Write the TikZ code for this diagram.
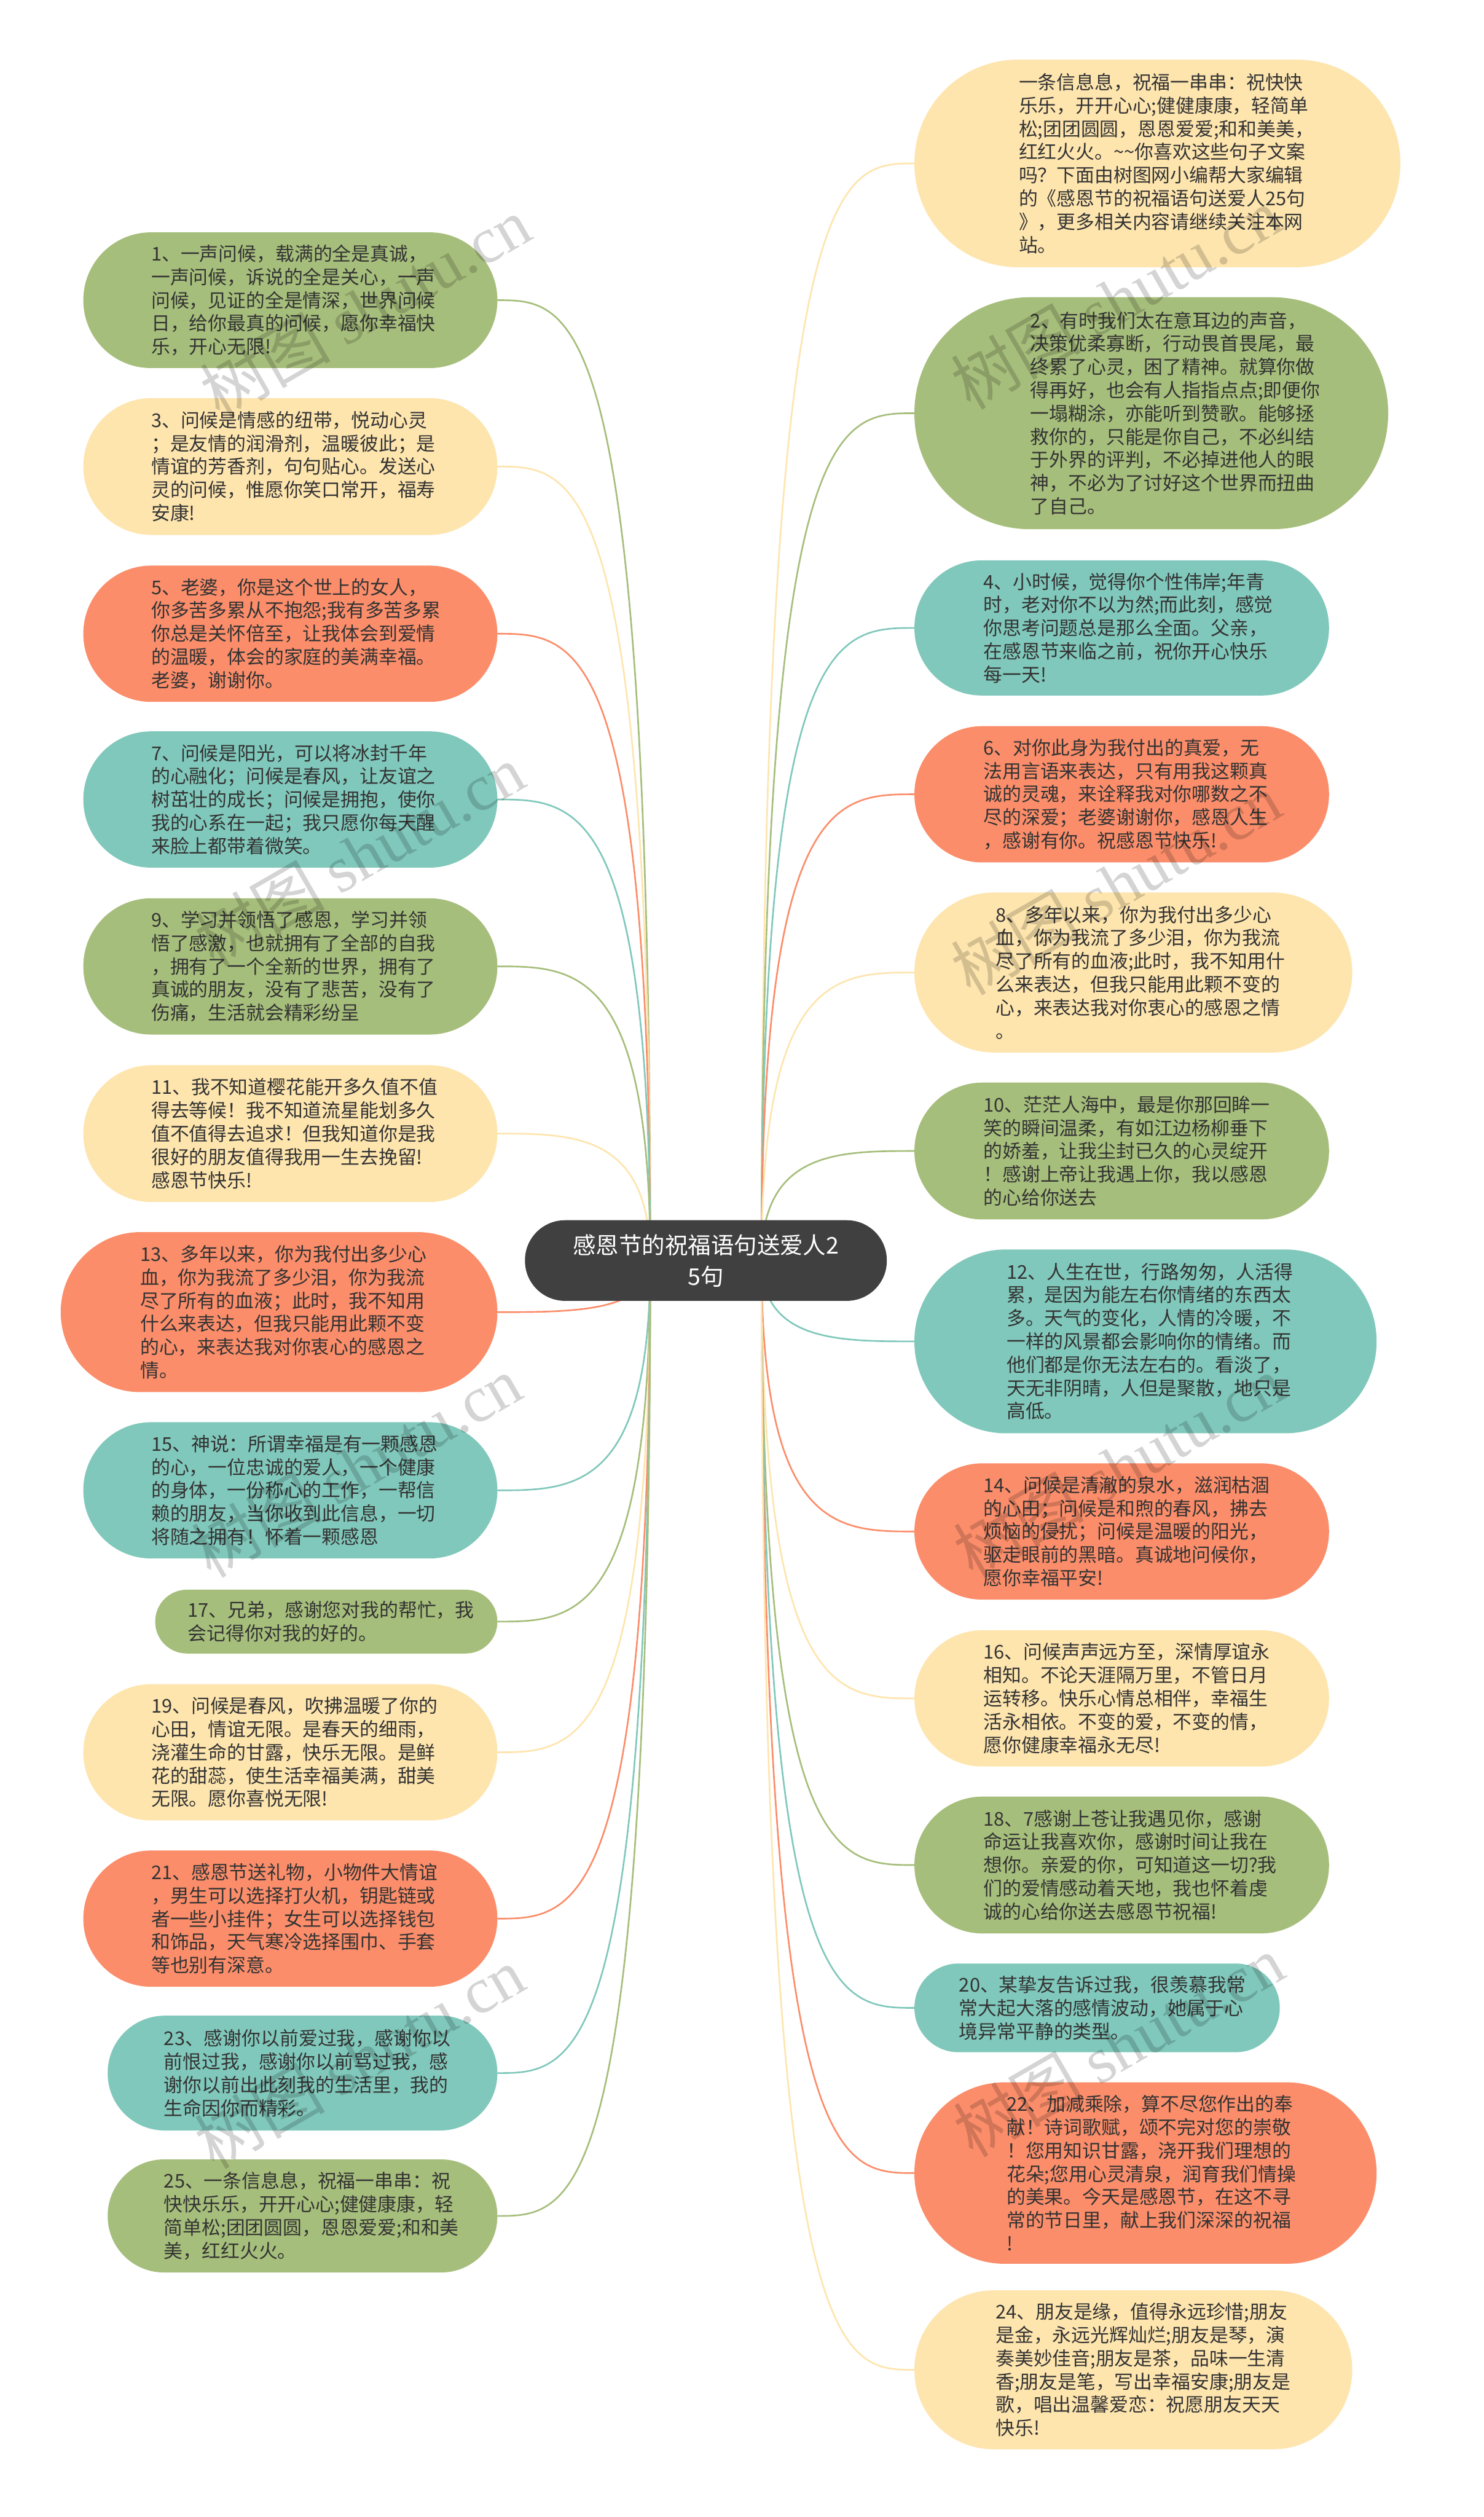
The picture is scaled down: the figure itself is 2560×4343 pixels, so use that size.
\documentclass[tikz,border=0pt]{standalone}
\usepackage{fontspec}
\setmainfont{Noto Sans CJK SC}
\newfontfamily\wmfont{Liberation Serif}
\usetikzlibrary{calc}
\pgfdeclarelayer{bg}
\pgfsetlayers{bg,main}
\definecolor{cgreen}{HTML}{A6BE7B}
\definecolor{cyellow}{HTML}{FEE5AE}
\definecolor{csalmon}{HTML}{FB8D6A}
\definecolor{cteal}{HTML}{80C8BB}
\definecolor{croot}{HTML}{404040}
\definecolor{ctext}{HTML}{333333}
\tikzset{
  leafbox/.style={inner sep=0pt, outer sep=0pt, draw=none},
  leaftext/.style={inner sep=0pt, outer sep=0pt, align=left, anchor=west, text=ctext, font=\fontsize{9.3pt}{11.4pt}\selectfont},
  conn/.style={line width=0.8pt},
  wm/.style={text=black, opacity=0.17, inner sep=0pt, font=\fontsize{32pt}{36pt}\selectfont, rotate=30}
}
\newcommand\leaf[8]{%
  \pgfmathsetmacro\lw{(#4-#3)/100}%
  \pgfmathsetmacro\lh{(#6-#5)/100}%
  \pgfmathsetmacro\lr{\lh/2-0.005}%
  \node[leafbox, fill=#2, minimum width=\lw cm, minimum height=\lh cm, rounded corners=\lr cm] (#1) at ({(#3+#4)/2},{(#5+#6)/2}) {};
  \node[leaftext] (#1t) at (#7,{(#5+#6)/2}) {#8};
}
\begin{document}
\begin{tikzpicture}[x=0.01cm,y=-0.01cm]
\useasboundingbox (0,0) rectangle (2560,4343);
\begin{pgfonlayer}{bg}
\fill[white] (0,0) rectangle (2560,4343);
\end{pgfonlayer}

\node[fill=croot, text=white, rounded corners=0.69cm, minimum width=6.24cm, minimum height=1.39cm, inner sep=0pt, align=center, font=\fontsize{11.3pt}{15.4pt}\selectfont] (root) at (1218,2175) {感恩节的祝福语句送爱人2\\5句};
\coordinate (rl) at ($(root.center)+(-96,0)$);
\coordinate (rr) at ($(root.center)+(96,0)$);

% left column
\leaf{b1}{cgreen}{144}{858}{401}{635}{261}{1、一声问候，载满的全是真诚，\\一声问候，诉说的全是关心，一声\\问候，见证的全是情深，世界问候\\日，给你最真的问候，愿你幸福快\\乐，开心无限!}
\leaf{b3}{cyellow}{144}{858}{687}{923}{261}{3、问候是情感的纽带，悦动心灵\\；是友情的润滑剂，温暖彼此；是\\情谊的芳香剂，句句贴心。发送心\\灵的问候，惟愿你笑口常开，福寿\\安康!}
\leaf{b5}{csalmon}{144}{858}{976}{1211}{261}{5、老婆，你是这个世上的女人，\\你多苦多累从不抱怨;我有多苦多累\\你总是关怀倍至，让我体会到爱情\\的温暖，体会的家庭的美满幸福。\\老婆，谢谢你。}
\leaf{b7}{cteal}{144}{858}{1262}{1497}{261}{7、问候是阳光，可以将冰封千年\\的心融化；问候是春风，让友谊之\\树茁壮的成长；问候是拥抱，使你\\我的心系在一起；我只愿你每天醒\\来脸上都带着微笑。}
\leaf{b9}{cgreen}{144}{858}{1550}{1785}{261}{9、学习并领悟了感恩，学习并领\\悟了感激，也就拥有了全部的自我\\，拥有了一个全新的世界，拥有了\\真诚的朋友，没有了悲苦，没有了\\伤痛，生活就会精彩纷呈}
\leaf{b11}{cyellow}{144}{858}{1838}{2074}{261}{11、我不知道樱花能开多久值不值\\得去等候！我不知道流星能划多久\\值不值得去追求！但我知道你是我\\很好的朋友值得我用一生去挽留!\\感恩节快乐!}
\leaf{b13}{csalmon}{105}{858}{2126}{2402}{242}{13、多年以来，你为我付出多少心\\血，你为我流了多少泪，你为我流\\尽了所有的血液；此时，我不知用\\什么来表达，但我只能用此颗不变\\的心，来表达我对你衷心的感恩之\\情。}
\leaf{b15}{cteal}{144}{858}{2454}{2689}{261}{15、神说：所谓幸福是有一颗感恩\\的心，一位忠诚的爱人，一个健康\\的身体，一份称心的工作，一帮信\\赖的朋友，当你收到此信息，一切\\将随之拥有！怀着一颗感恩}
\leaf{b17}{cgreen}{268}{858}{2743}{2853}{324}{17、兄弟，感谢您对我的帮忙，我\\会记得你对我的好的。}
\leaf{b19}{cyellow}{144}{858}{2906}{3141}{261}{19、问候是春风，吹拂温暖了你的\\心田，情谊无限。是春天的细雨，\\浇灌生命的甘露，快乐无限。是鲜\\花的甜蕊，使生活幸福美满，甜美\\无限。愿你喜悦无限!}
\leaf{b21}{csalmon}{144}{858}{3193}{3428}{261}{21、感恩节送礼物，小物件大情谊\\，男生可以选择打火机，钥匙链或\\者一些小挂件；女生可以选择钱包\\和饰品，天气寒冷选择围巾、手套\\等也别有深意。}
\leaf{b23}{cteal}{186}{858}{3478}{3676}{283}{23、感谢你以前爱过我，感谢你以\\前恨过我，感谢你以前骂过我，感\\谢你以前出此刻我的生活里，我的\\生命因你而精彩。}
\leaf{b25}{cgreen}{186}{858}{3726}{3921}{283}{25、一条信息息，祝福一串串：祝\\快快乐乐，开开心心;健健康康，轻\\简单松;团团圆圆，恩恩爱爱;和和美\\美，红红火火。}

% right column
\leaf{b0}{cyellow}{1578}{2416}{103}{461}{1758}{一条信息息，祝福一串串：祝快快\\乐乐，开开心心;健健康康，轻简单\\松;团团圆圆，恩恩爱爱;和和美美，\\红红火火。\string~\string~你喜欢这些句子文案\\吗？下面由树图网小编帮大家编辑\\的《感恩节的祝福语句送爱人25句\\》，更多相关内容请继续关注本网\\站。}
\leaf{b2}{cgreen}{1578}{2395}{513}{913}{1778}{2、有时我们太在意耳边的声音，\\决策优柔寡断，行动畏首畏尾，最\\终累了心灵，困了精神。就算你做\\得再好，也会有人指指点点;即便你\\一塌糊涂，亦能听到赞歌。能够拯\\救你的，只能是你自己，不必纠结\\于外界的评判，不必掉进他人的眼\\神，不必为了讨好这个世界而扭曲\\了自己。}
\leaf{b4}{cteal}{1578}{2293}{967}{1200}{1697}{4、小时候，觉得你个性伟岸;年青\\时，老对你不以为然;而此刻，感觉\\你思考问题总是那么全面。父亲，\\在感恩节来临之前，祝你开心快乐\\每一天!}
\leaf{b6}{csalmon}{1578}{2293}{1253}{1488}{1697}{6、对你此身为我付出的真爱，无\\法用言语来表达，只有用我这颗真\\诚的灵魂，来诠释我对你哪数之不\\尽的深爱；老婆谢谢你，感恩人生\\，感谢有你。祝感恩节快乐!}
\leaf{b8}{cyellow}{1578}{2333}{1540}{1816}{1718}{8、多年以来，你为我付出多少心\\血，你为我流了多少泪，你为我流\\尽了所有的血液;此时，我不知用什\\么来表达，但我只能用此颗不变的\\心，来表达我对你衷心的感恩之情\\。}
\leaf{b10}{cgreen}{1578}{2293}{1868}{2104}{1697}{10、茫茫人海中，最是你那回眸一\\笑的瞬间温柔，有如江边杨柳垂下\\的娇羞，让我尘封已久的心灵绽开\\！感谢上帝让我遇上你，我以感恩\\的心给你送去}
\leaf{b12}{cteal}{1578}{2375}{2156}{2473}{1737}{12、人生在世，行路匆匆，人活得\\累，是因为能左右你情绪的东西太\\多。天气的变化，人情的冷暖，不\\一样的风景都会影响你的情绪。而\\他们都是你无法左右的。看淡了，\\天无非阴晴，人但是聚散，地只是\\高低。}
\leaf{b14}{csalmon}{1578}{2293}{2525}{2760}{1697}{14、问候是清澈的泉水，滋润枯涸\\的心田；问候是和煦的春风，拂去\\烦恼的侵扰；问候是温暖的阳光，\\驱走眼前的黑暗。真诚地问候你，\\愿你幸福平安!}
\leaf{b16}{cyellow}{1578}{2293}{2813}{3048}{1697}{16、问候声声远方至，深情厚谊永\\相知。不论天涯隔万里，不管日月\\运转移。快乐心情总相伴，幸福生\\活永相依。不变的爱，不变的情，\\愿你健康幸福永无尽!}
\leaf{b18}{cgreen}{1578}{2293}{3100}{3336}{1697}{18、7感谢上苍让我遇见你，感谢\\命运让我喜欢你，感谢时间让我在\\想你。亲爱的你，可知道这一切?我\\们的爱情感动着天地，我也怀着虔\\诚的心给你送去感恩节祝福!}
\leaf{b20}{cteal}{1578}{2208}{3388}{3541}{1655}{20、某挚友告诉过我，很羡慕我常\\常大起大落的感情波动，她属于心\\境异常平静的类型。}
\leaf{b22}{csalmon}{1578}{2375}{3593}{3906}{1737}{22、加减乘除，算不尽您作出的奉\\献！诗词歌赋，颂不完对您的崇敬\\！您用知识甘露，浇开我们理想的\\花朵;您用心灵清泉，润育我们情操\\的美果。今天是感恩节，在这不寻\\常的节日里，献上我们深深的祝福\\!}
\leaf{b24}{cyellow}{1578}{2333}{3952}{4226}{1718}{24、朋友是缘，值得永远珍惜;朋友\\是金，永远光辉灿烂;朋友是琴，演\\奏美妙佳音;朋友是茶，品味一生清\\香;朋友是笔，写出幸福安康;朋友是\\歌，唱出温馨爱恋：祝愿朋友天天\\快乐!}

\begin{pgfonlayer}{bg}
\foreach \n/\c in {b1/cgreen,b3/cyellow,b5/csalmon,b7/cteal,b9/cgreen,b11/cyellow,b13/csalmon,b15/cteal,b17/cgreen,b19/cyellow,b21/csalmon,b23/cteal,b25/cgreen}
  \draw[conn, color=\c] (rl) .. controls (rl |- \n.east) and ($(rl |- \n.east)!0.5!(\n.east)$) .. (\n.east);
\foreach \n/\c in {b0/cyellow,b2/cgreen,b4/cteal,b6/csalmon,b8/cyellow,b10/cgreen,b12/cteal,b14/csalmon,b16/cyellow,b18/cgreen,b20/cteal,b22/csalmon,b24/cyellow}
  \draw[conn, color=\c] (rr) .. controls (rr |- \n.west) and ($(rr |- \n.west)!0.5!(\n.west)$) .. (\n.west);
\end{pgfonlayer}

% watermarks
\foreach \i/\x/\y in {1/630/530,2/620/1475,3/615/2530,4/620/3550,5/1925/515,6/1925/1525,7/1930/2530,8/1930/3530}
  \node[wm] (wm\i) at (\x,\y) {树图 {\wmfont shutu.cn}};
\end{tikzpicture}
\end{document}
